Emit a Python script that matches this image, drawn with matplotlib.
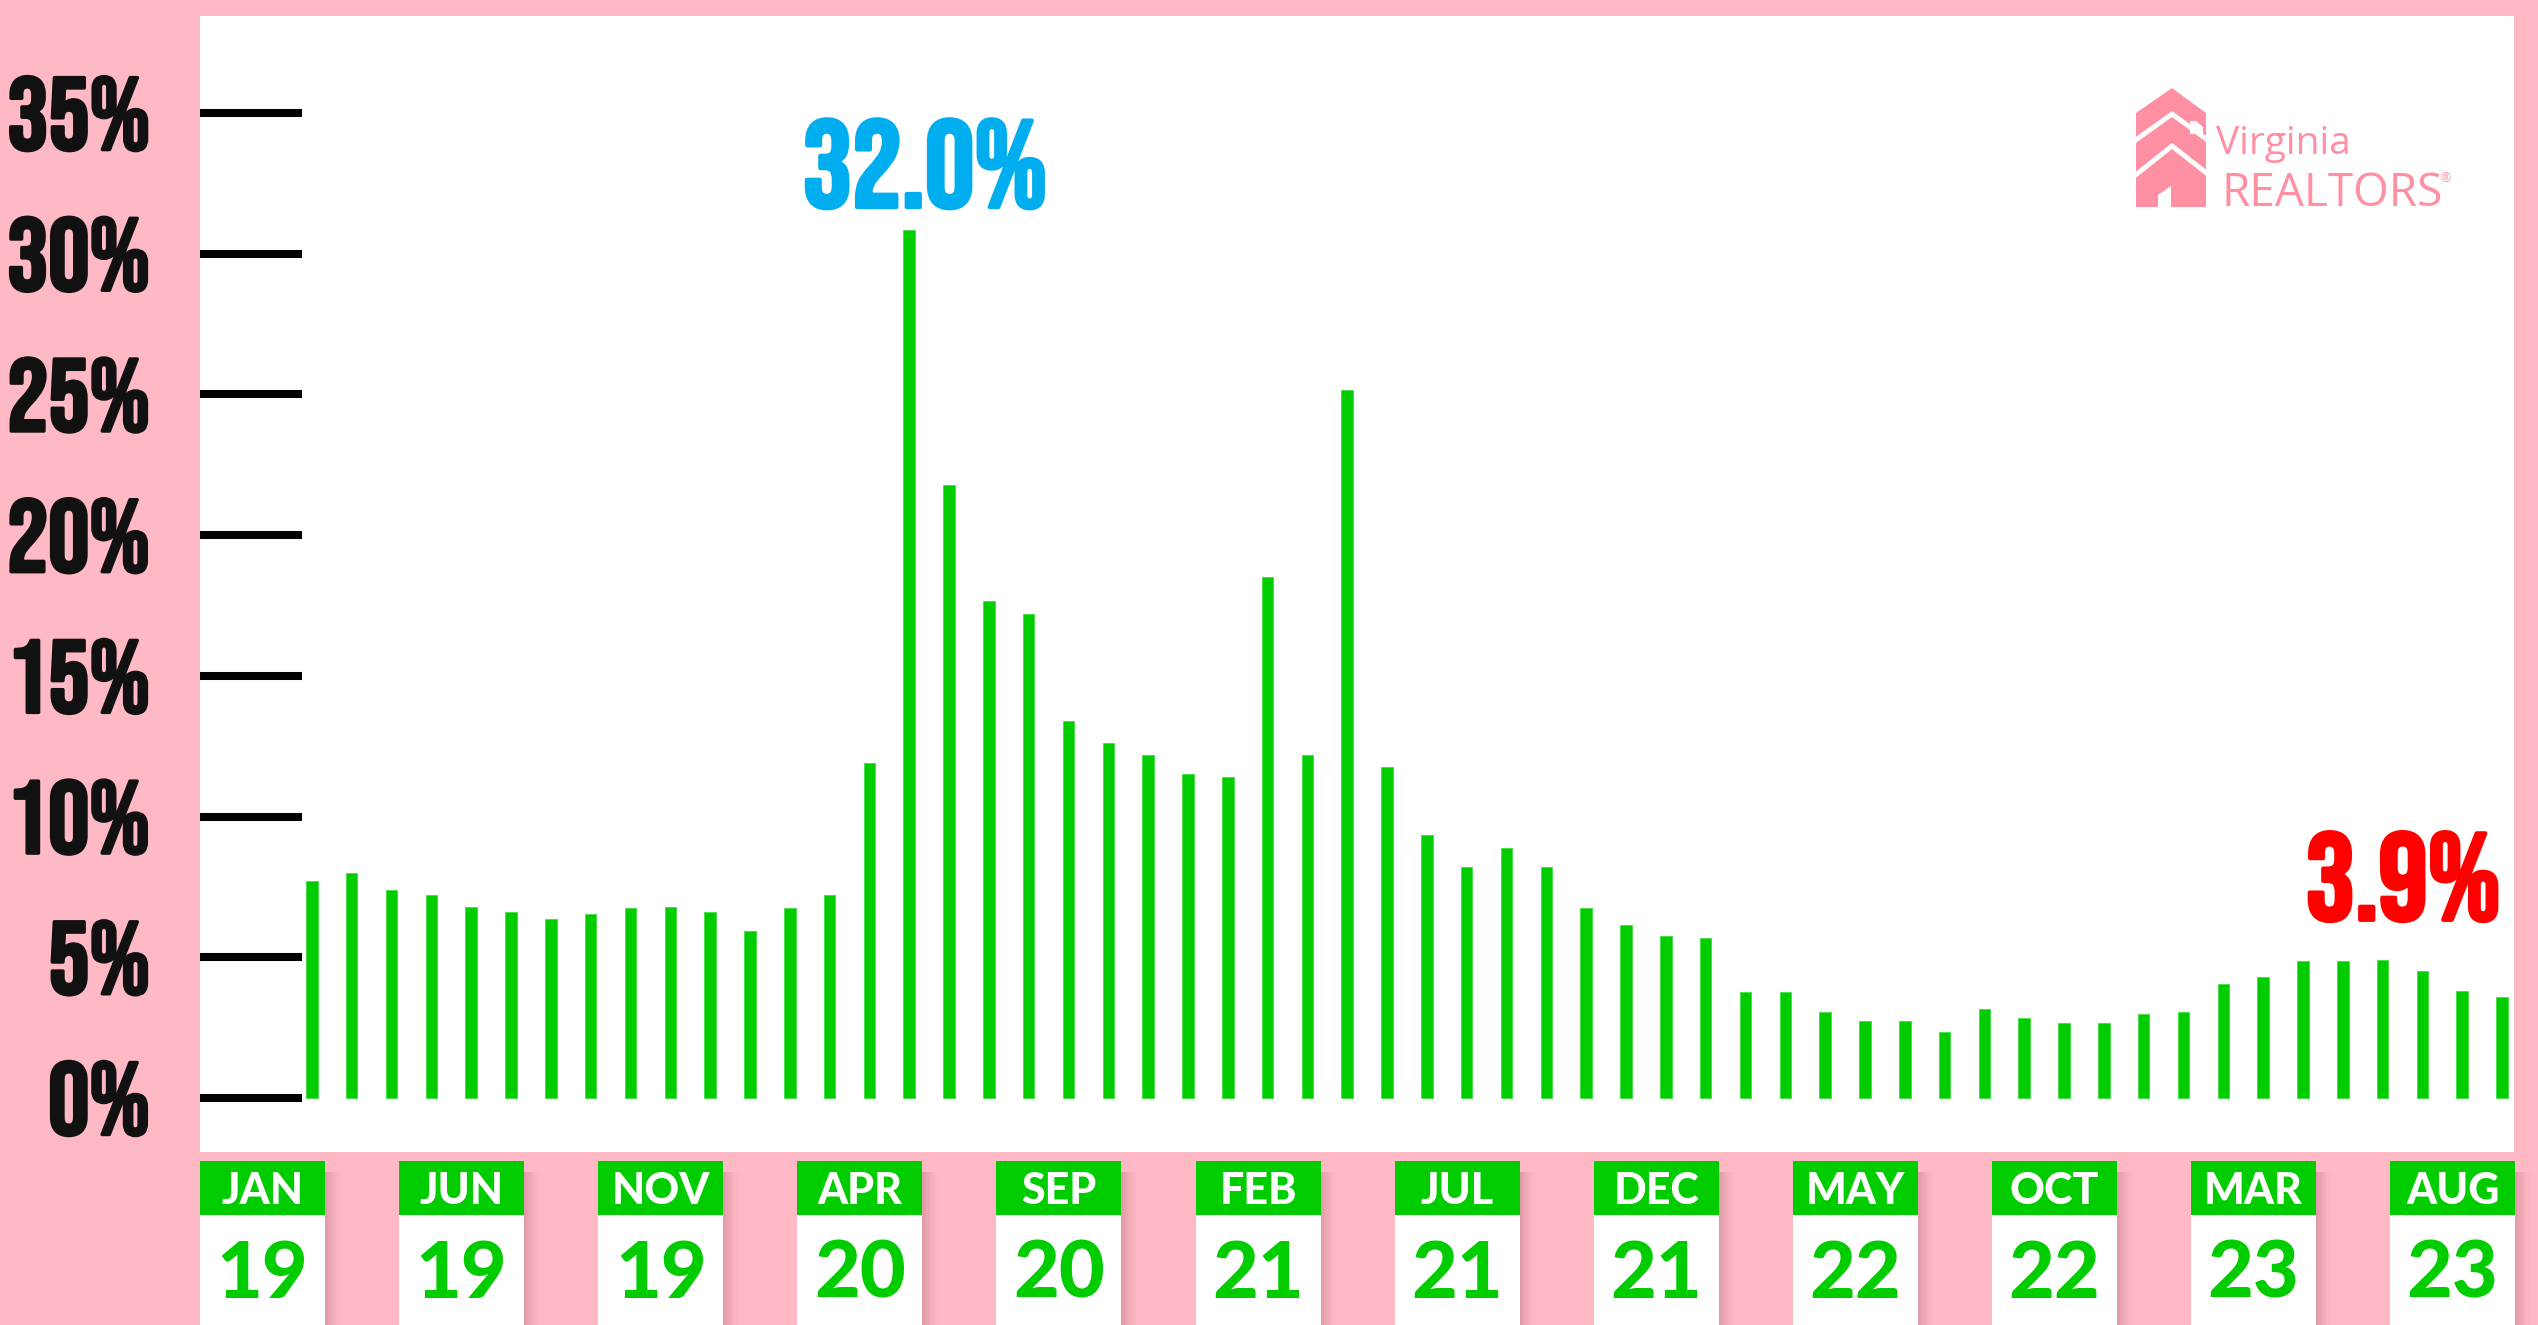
import matplotlib
matplotlib.use("Agg")
import matplotlib.pyplot as plt
import matplotlib.patheffects as pe
from matplotlib.patches import Rectangle, Polygon
from matplotlib.lines import Line2D

# ----------------------------------------
# Data (monthly, Jan 2019 - Aug 2023), %
# ----------------------------------------
values = [7.7, 8.0, 7.4, 7.2, 6.8, 6.6, 6.35, 6.55, 6.75, 6.8, 6.6, 5.95,
          6.75, 7.2, 11.9, 30.85, 21.8, 17.65, 17.2, 13.4, 12.6, 12.2, 11.5, 11.4,
          18.5, 12.2, 25.15, 11.75, 9.35, 8.2, 8.9, 8.2, 6.75, 6.15, 5.75, 5.7,
          3.75, 3.75, 3.05, 2.75, 2.75, 2.35, 3.15, 2.85, 2.65, 2.65, 3.0, 3.05,
          4.05, 4.3, 4.85, 4.85, 4.9, 4.5, 3.8, 3.6]
label_months = ["JAN", "JUN", "NOV", "APR", "SEP", "FEB", "JUL", "DEC", "MAY", "OCT", "MAR", "AUG"]
label_years = ["19", "19", "19", "20", "20", "21", "21", "21", "22", "22", "23", "23"]
label_step = 5
yticks = [0, 5, 10, 15, 20, 25, 30, 35]
peak_text = "32.0%"
last_text = "3.9%"

PINK = "#FFB9C4"
GREEN = "#00CC00"
BLUE = "#00AEEF"
RED = "#FF0000"
LOGO = "#FF8FA3"

W, H = 2538, 1325
fig = plt.figure(figsize=(W / 100, H / 100), dpi=100)
fig.patch.set_facecolor(PINK)

def px(x, y):
    return (x / W, 1 - y / H)

ax = fig.add_axes([200 / W, 1 - 1152 / H, (2514 - 200) / W, (1152 - 16) / H])
ax.set_facecolor("white")

x = list(range(len(values)))
ax.bar(x, values, width=0.29, color=GREEN, edgecolor="#44DD44", linewidth=0.6)

ax.set_xlim(-2.81, len(values) - 1 + 0.30)
ax.set_ylim(-1.92, 38.45)

for s in ax.spines.values():
    s.set_visible(False)

cond = ["Bebas Neue", "Oswald", "Anton", "DejaVu Sans"]
ax.set_yticks(yticks)
ax.set_yticklabels([f"{v}%" for v in yticks], fontfamily=cond,
                   fontsize=74, color="#111111")
for lbl in ax.get_yticklabels():
    lbl.set_path_effects([pe.withStroke(linewidth=2.5, foreground="#111111")])
ax.tick_params(axis="y", direction="in", length=73.5, width=5.8, color="black", pad=36)
ax.set_xticks([])

# highlight labels
for xv, yv, txt, col in [(15.4, 31.66, peak_text, BLUE), (52.52, 6.33, last_text, RED)]:
    ax.text(xv, yv, txt, ha="center", va="baseline", color=col, fontfamily=cond,
            fontsize=89, path_effects=[pe.withStroke(linewidth=3, foreground=col)])

# ----------------------------------------
# Calendar style x labels
# ----------------------------------------
tr = ax.get_xaxis_transform()
ax_h = 1152 - 16

def ay(ypx):
    return -(ypx - 1152) / ax_h

for i, (m, yr) in enumerate(zip(label_months, label_years)):
    c = i * label_step
    left = c - 2.81
    wid = 3.14
    # soft shadow on the right of each card
    for k in range(10):
        ax.add_patch(Rectangle((left + wid + k * 0.04, ay(1325)), 0.04, ay(1172) - ay(1325),
                               transform=tr, clip_on=False, facecolor="#A05A6E",
                               alpha=0.32 * (1 - k / 10) ** 1.5, lw=0, zorder=1))
    ax.add_patch(Rectangle((left, ay(1325)), wid, ay(1215) - ay(1325), transform=tr,
                           clip_on=False, facecolor="white", lw=0, zorder=2))
    ax.add_patch(Rectangle((left, ay(1215)), wid, ay(1161) - ay(1215), transform=tr,
                           clip_on=False, facecolor=GREEN, lw=0, zorder=2))
    ax.text(left + wid / 2, ay(1204), m, transform=tr, ha="center", va="baseline",
            color="white", fontfamily="Lato", fontweight="black", fontsize=31, zorder=3)
    ax.text(left + wid / 2, ay(1298), yr, transform=tr, ha="center", va="baseline",
            color=GREEN, fontfamily="Lato", fontweight="black", fontsize=57, zorder=3)

# ----------------------------------------
# Logo
# ----------------------------------------
house = [px(2136, 207), px(2136, 113), px(2172, 88), px(2206, 113), px(2206, 207)]
fig.add_artist(Polygon(house, closed=True, facecolor=LOGO, lw=0, transform=fig.transFigure))
for pts in ([(2133, 142), (2172, 114), (2209, 141)], [(2133, 177), (2172, 146), (2209, 175)]):
    xs = [px(a, b)[0] for a, b in pts]
    ys = [px(a, b)[1] for a, b in pts]
    fig.add_artist(Line2D(xs, ys, color="white", lw=3.5, transform=fig.transFigure,
                          solid_joinstyle="miter"))
door = [px(2158, 207), px(2158, 195), px(2171, 186), px(2171, 207)]
fig.add_artist(Polygon(door, closed=True, facecolor="white", lw=0, transform=fig.transFigure))
chim = [px(2190, 121), px(2196, 121), px(2203, 127), px(2203, 134), px(2190, 134)]
fig.add_artist(Polygon(chim, closed=True, facecolor="white", lw=0, transform=fig.transFigure))

fig.text(*px(2216, 154), "Virginia", color=LOGO, fontfamily="Open Sans",
         fontsize=28, ha="left", va="baseline")
fig.text(*px(2221, 206), "REALTORS", color=LOGO, fontfamily="Open Sans",
         fontsize=33, ha="left", va="baseline")
fig.text(*px(2440, 182), "®", color=LOGO, fontfamily="Open Sans",
         fontsize=9, ha="left", va="baseline")

fig.savefig("out.png", dpi=100, facecolor=PINK)
